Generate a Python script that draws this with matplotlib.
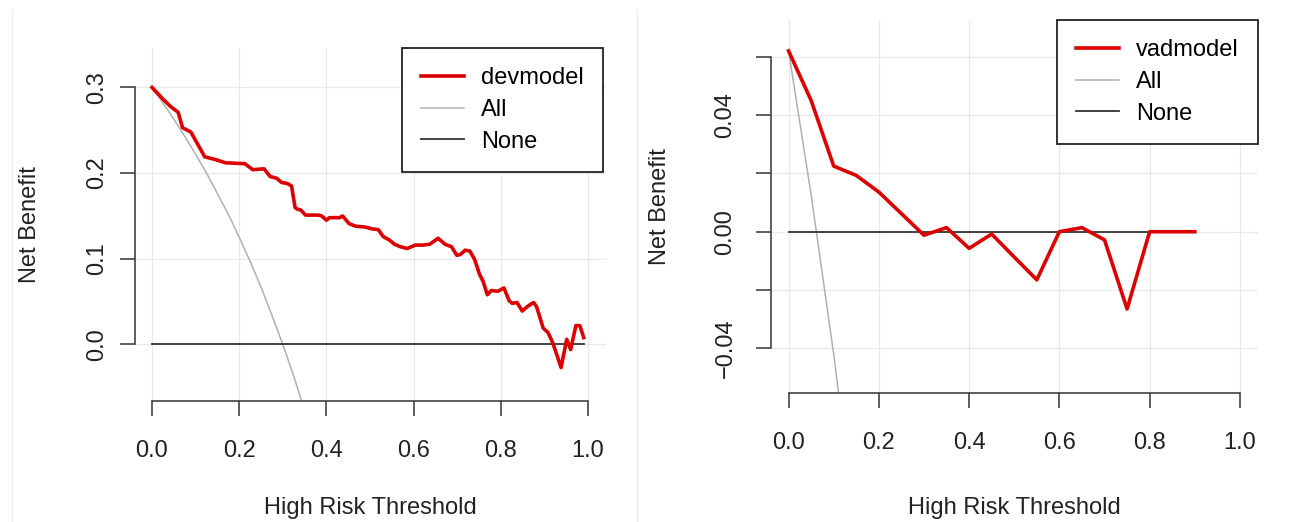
import matplotlib
matplotlib.use("Agg")
import matplotlib.pyplot as plt
from matplotlib.lines import Line2D

plt.rcParams['font.family'] = ['Liberation Sans', 'DejaVu Sans']

# development cohort: decision curve
dev_thr = [0.000, 0.024, 0.042, 0.060, 0.070, 0.089, 0.121, 0.144, 0.169, 0.213,
           0.231, 0.257, 0.271, 0.286, 0.297, 0.310, 0.320, 0.328, 0.333, 0.341,
           0.352, 0.381, 0.389, 0.400, 0.407, 0.430, 0.437, 0.452, 0.467, 0.489,
           0.504, 0.519, 0.530, 0.544, 0.556, 0.570, 0.585, 0.604, 0.622, 0.637,
           0.656, 0.672, 0.687, 0.699, 0.707, 0.718, 0.729, 0.740, 0.751, 0.759,
           0.769, 0.778, 0.793, 0.807, 0.819, 0.826, 0.837, 0.849, 0.860, 0.875,
           0.882, 0.897, 0.908, 0.919, 0.938, 0.951, 0.960, 0.972, 0.981, 0.990]
dev_nb = [0.300, 0.287, 0.278, 0.271, 0.253, 0.248, 0.219, 0.216, 0.212, 0.211,
          0.204, 0.205, 0.196, 0.194, 0.189, 0.188, 0.185, 0.160, 0.158, 0.157,
          0.151, 0.151, 0.150, 0.145, 0.148, 0.148, 0.150, 0.141, 0.138, 0.137,
          0.135, 0.134, 0.126, 0.122, 0.117, 0.114, 0.112, 0.116, 0.116, 0.117,
          0.124, 0.117, 0.114, 0.104, 0.105, 0.110, 0.109, 0.099, 0.082, 0.074,
          0.058, 0.063, 0.062, 0.066, 0.051, 0.048, 0.049, 0.039, 0.044, 0.049,
          0.044, 0.019, 0.014, 0.002, -0.027, 0.006, -0.006, 0.022, 0.022, 0.008]
dev_all_thr = [0.000, 0.025, 0.050, 0.075, 0.100, 0.125, 0.150, 0.175,
               0.200, 0.225, 0.250, 0.275, 0.300, 0.325, 0.350]
dev_all_nb = [0.300, 0.282, 0.263, 0.243, 0.222, 0.200, 0.176, 0.152,
              0.125, 0.097, 0.067, 0.034, 0.000, -0.037, -0.077]
dev_none_thr = [0.0, 0.99]

# validation cohort
vad_thr = [0.00, 0.05, 0.10, 0.15, 0.20, 0.25, 0.30, 0.35, 0.40, 0.45,
           0.50, 0.55, 0.60, 0.65, 0.70, 0.75, 0.80, 0.85, 0.90]
vad_nb = [0.0620, 0.0450, 0.0225, 0.0193, 0.0136, 0.0062, -0.0012, 0.0014, -0.0057, -0.0008,
          -0.0087, -0.0165, 0.0000, 0.0014, -0.0028, -0.0265, 0.0000, 0.0000, 0.0000]
vad_all_thr = [0.00, 0.05, 0.10, 0.15]
vad_all_nb = [0.062, 0.0126, -0.042, -0.104]
vad_none_thr = [0.0, 0.90]

x_ticks = [0.0, 0.2, 0.4, 0.6, 0.8, 1.0]
x_labels = ['0.0', '0.2', '0.4', '0.6', '0.8', '1.0']
dev_yticks = [0.0, 0.1, 0.2, 0.3]
dev_ylabels = ['0.0', '0.1', '0.2', '0.3']
vad_yticks = [-0.04, -0.02, 0.0, 0.02, 0.04, 0.06]
vad_ylabels = ['\u22120.04', '', '0.00', '', '0.04', '']

RED = '#dd0000'
GREY = '#b0b0b0'
DARK = '#333333'
FS = 17

fig = plt.figure(figsize=(12.95, 5.22), dpi=100)


def dca_panel(ax, thr, nb, all_thr, all_nb, none_thr, name, yticks, ylabels, ylim,
              ypad, ylab_x, xlab_y, leg_x):
    ax.plot(all_thr, all_nb, color=GREY, lw=1.1, label='All')
    ax.plot(none_thr, [0, 0], color=DARK, lw=1.3, label='None')
    ax.plot(thr, nb, color=RED, lw=2.6, label=name)

    ax.set_xlim(-0.04, 1.04)
    ax.set_ylim(*ylim)
    ax.set_xticks(x_ticks)
    ax.set_xticklabels(x_labels, fontsize=FS, color='#222222')
    ax.set_yticks(yticks)
    ax.set_yticklabels(ylabels, fontsize=FS, color='#222222', rotation=90, va='center')
    ax.grid(True, color='#e8e8e8', lw=0.9)
    ax.set_axisbelow(True)

    for s in ['top', 'right']:
        ax.spines[s].set_visible(False)
    for s in ['left', 'bottom']:
        ax.spines[s].set_color(DARK)
        ax.spines[s].set_linewidth(1.1)
    ax.spines['bottom'].set_bounds(0, 1)
    ax.spines['left'].set_bounds(yticks[0], yticks[-1])
    ax.tick_params(axis='both', direction='out', length=10.8, width=1.1, color=DARK)
    ax.tick_params(axis='x', pad=17)
    ax.tick_params(axis='y', pad=ypad)

    ax.set_xlabel('High Risk Threshold', fontsize=FS, color='#222222', va='center')
    ax.xaxis.set_label_coords(0.5, xlab_y)
    ax.set_ylabel('Net Benefit', fontsize=FS, color='#222222', va='center')
    ax.yaxis.set_label_coords(ylab_x, 0.5)

    h, l = ax.get_legend_handles_labels()
    order = [2, 0, 1]
    leg = ax.legend([h[i] for i in order], [l[i] for i in order],
                    loc='upper right', bbox_to_anchor=(leg_x, 1.0), fontsize=FS,
                    frameon=True, fancybox=False, edgecolor='#222222', framealpha=1,
                    handlelength=1.8, handletextpad=0.75, borderpad=0.8,
                    labelspacing=0.42, borderaxespad=0)
    leg.get_frame().set_linewidth(1.3)


ax1 = fig.add_axes([0.1039, 0.2318, 0.3637, 0.6762])
dca_panel(ax1, dev_thr, dev_nb, dev_all_thr, dev_all_nb, dev_none_thr, 'devmodel',
          dev_yticks, dev_ylabels, (-0.066, 0.346), 8.3, -0.222, -0.303, 0.9945)

ax2 = fig.add_axes([0.595, 0.2466, 0.3764, 0.7151])
dca_panel(ax2, vad_thr, vad_nb, vad_all_thr, vad_all_nb, vad_none_thr, 'vadmodel',
          vad_yticks, vad_ylabels, (-0.0554, 0.0726), 13.7, -0.2267, -0.307, 1.0)

# faint borders of the two pasted images
for xp in [12 / 1295, 637 / 1295]:
    fig.add_artist(Line2D([xp, xp], [0, 0.98], transform=fig.transFigure,
                          color='#eeeeee', lw=1))

fig.savefig('out.png', dpi=100)
